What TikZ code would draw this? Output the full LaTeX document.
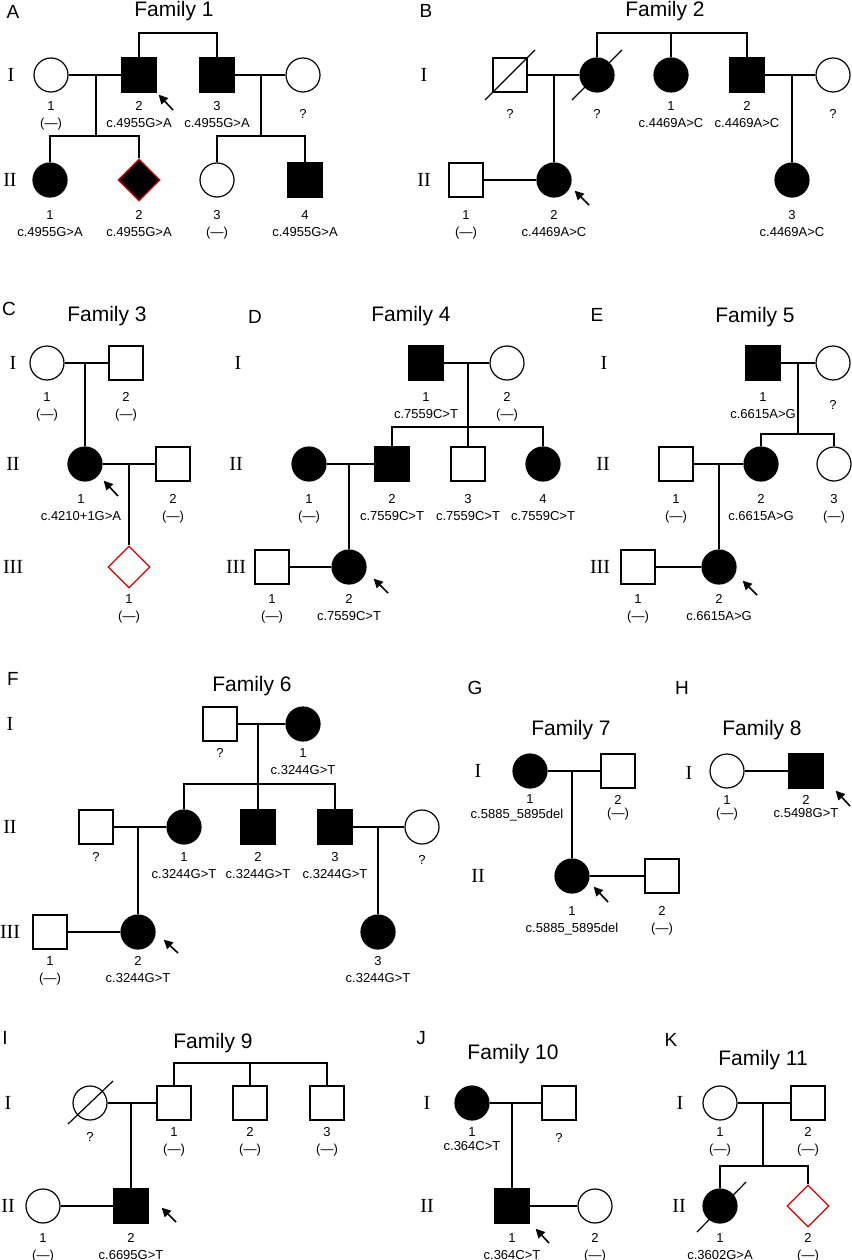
\documentclass[tikz,border=0pt]{standalone}
\usepackage{fontspec}
\setmainfont{Liberation Sans}
\newfontfamily\genfont{Liberation Serif}
\usepackage{tikz}
\usetikzlibrary{shapes.geometric}
\usetikzlibrary{arrows.meta}

\tikzset{
  male/.style={rectangle, draw, minimum size=34pt, inner sep=0pt},
  female/.style={circle, draw, minimum size=34pt, inner sep=0pt},
  sexunk/.style={diamond, draw=red!85!black, shape aspect=1, minimum width=42pt, minimum height=42pt, inner sep=0pt},
  aff/.style={fill=black},
  lab/.style={anchor=north, align=center, inner sep=0pt, font=\fontsize{13}{16.5}\selectfont},
  tlab/.style={lab, font=\fontsize{13}{13}\selectfont},
  gen/.style={inner sep=0pt, font=\genfont\fontsize{20}{20}\selectfont},
  fam/.style={anchor=base, inner sep=0pt, font=\fontsize{21}{21}\selectfont},
  panel/.style={anchor=base, inner sep=0pt, font=\fontsize{19}{19}\selectfont},
  proband/.style={-{Triangle[length=9pt,width=9pt]}, line width=1.6pt, shorten >=1pt}
}

\begin{document}
\begin{tikzpicture}[x=1pt, y=-1pt, line width=1.2pt]
\useasboundingbox (0,0) rectangle (851,1260);

% ---- Family 1
\node [panel] (pA) at (13,19) {A};
\node [fam] (t1) at (174,17) {Family 1};
\node [gen] (g1a) at (11,75) {I};
\node [gen] (g1b) at (10,180) {II};
\node [female] (f1i1) at (51,75) {};
\node [male, aff] (f1i2) at (139,75) {};
\node [male, aff] (f1i3) at (217,75) {};
\node [female] (f1i4) at (303,75) {};
\node [female, aff] (f1ii1) at (50,180) {};
\node [sexunk, aff] (f1ii2) at (139,180) {};
\node [female] (f1ii3) at (217,180) {};
\node [male, aff] (f1ii4) at (305,180) {};
\coordinate (f1s0) at (178,33);
\coordinate (f1m1) at (96,75);
\coordinate (f1s1) at (96,136);
\coordinate (f1m2) at (261,75);
\coordinate (f1s2) at (261,136);
\draw (f1i2) |- (f1s0) -| (f1i3);
\draw (f1i1) -- (f1i2);
\draw (f1i3) -- (f1i4);
\draw (f1m1) -- (f1s1);
\draw (f1ii1) |- (f1s1) -| (f1ii2);
\draw (f1m2) -- (f1s2);
\draw (f1ii3) |- (f1s2) -| (f1ii4);
\node [lab] (f1i1t) at (51,101) {1\\(—)};
\node [lab] (f1i2t) at (139,101) {2\\c.4955G>A};
\node [lab] (f1i3t) at (217,101) {3\\c.4955G>A};
\node [lab] (f1i4t) at (303,109) {?};
\node [lab] (f1ii1t) at (50,210) {1\\c.4955G>A};
\node [lab] (f1ii2t) at (139,210) {2\\c.4955G>A};
\node [lab] (f1ii3t) at (217,210) {3\\(—)};
\node [lab] (f1ii4t) at (305,210) {4\\c.4955G>A};
\draw [proband] (f1i2) ++(34,35) -- ++(-15,-16);

% ---- Family 2
\node [panel] (pB) at (426,18) {B};
\node [fam] (t2) at (665,17) {Family 2};
\node [gen] (g2a) at (424,75) {I};
\node [gen] (g2b) at (424,180) {II};
\node [male] (f2ia) at (510,75) {};
\node [female, aff] (f2ib) at (597,75) {};
\node [female, aff] (f2i1) at (671,75) {};
\node [male, aff] (f2i2) at (747,75) {};
\node [female] (f2ic) at (833,75) {};
\node [male] (f2ii1) at (466,180) {};
\node [female, aff] (f2ii2) at (554,180) {};
\node [female, aff] (f2ii3) at (792,180) {};
\coordinate (f2s0) at (671,33);
\coordinate (f2m1) at (554,75);
\coordinate (f2m2) at (792,75);
\draw (f2ib) |- (f2s0) -| (f2i2);
\draw (f2i1) -- (f2s0);
\draw (f2ia) -- (f2ib);
\draw (f2i2) -- (f2ic);
\draw (f2m1) -- (f2ii2);
\draw (f2m2) -- (f2ii3);
\draw (f2ii1) -- (f2ii2);
\draw (f2ia) ++(-25,25) -- ++(50,-50);
\draw (f2ib) ++(-25,25) -- ++(50,-50);
\node [lab] (f2iat) at (510,109) {?};
\node [lab] (f2ibt) at (597,109) {?};
\node [lab] (f2i1t) at (671,101) {1\\c.4469A>C};
\node [lab] (f2i2t) at (747,101) {2\\c.4469A>C};
\node [lab] (f2ict) at (833,109) {?};
\node [lab] (f2ii1t) at (466,210) {1\\(—)};
\node [lab] (f2ii2t) at (554,210) {2\\c.4469A>C};
\node [lab] (f2ii3t) at (792,210) {3\\c.4469A>C};
\draw [proband] (f2ii2) ++(35,25) -- ++(-15,-15);

% ---- Family 3
\node [panel] (pC) at (9,315) {C};
\node [fam] (t3) at (107,321) {Family 3};
\node [gen] (g3a) at (13,363) {I};
\node [gen] (g3b) at (13,464) {II};
\node [gen] (g3c) at (13,567) {III};
\node [female] (f3i1) at (47,363) {};
\node [male] (f3i2) at (126,363) {};
\node [female, aff] (f3ii1) at (85,464) {};
\node [male] (f3ii2) at (173,464) {};
\node [sexunk] (f3iii1) at (129,567) {};
\coordinate (f3m1) at (85,363);
\coordinate (f3m2) at (129,464);
\draw (f3i1) -- (f3i2);
\draw (f3m1) -- (f3ii1);
\draw (f3ii1) -- (f3ii2);
\draw (f3m2) -- (f3iii1);
\node [lab] (f3i1t) at (47,392) {1\\(—)};
\node [lab] (f3i2t) at (126,392) {2\\(—)};
\node [lab] (f3ii1t) at (81,494) {1\\c.4210+1G>A};
\node [lab] (f3ii2t) at (173,494) {2\\(—)};
\node [lab] (f3iii1t) at (129,594) {1\\(—)};
\draw [proband] (f3ii1) ++(33,32) -- ++(-15,-16);

% ---- Family 4
\node [panel] (pD) at (255,323) {D};
\node [fam] (t4) at (411,321) {Family 4};
\node [gen] (g4a) at (238,363) {I};
\node [gen] (g4b) at (236,464) {II};
\node [gen] (g4c) at (236,567) {III};
\node [male, aff] (f4i1) at (426,363) {};
\node [female] (f4i2) at (507,363) {};
\node [female, aff] (f4ii1) at (309,464) {};
\node [male, aff] (f4ii2) at (392,464) {};
\node [male] (f4ii3) at (468,464) {};
\node [female, aff] (f4ii4) at (543,464) {};
\node [male] (f4iii1) at (272,567) {};
\node [female, aff] (f4iii2) at (349,567) {};
\coordinate (f4m1) at (468,363);
\coordinate (f4s1) at (468,427);
\coordinate (f4m2) at (349,464);
\draw (f4i1) -- (f4i2);
\draw (f4m1) -- (f4ii3);
\draw (f4ii2) |- (f4s1) -| (f4ii4);
\draw (f4ii1) -- (f4ii2);
\draw (f4m2) -- (f4iii2);
\draw (f4iii1) -- (f4iii2);
\node [lab] (f4i1t) at (426,392) {1\\c.7559C>T};
\node [lab] (f4i2t) at (507,392) {2\\(—)};
\node [lab] (f4ii1t) at (309,494) {1\\(—)};
\node [lab] (f4ii2t) at (392,494) {2\\c.7559C>T};
\node [lab] (f4ii3t) at (468,494) {3\\c.7559C>T};
\node [lab] (f4ii4t) at (543,494) {4\\c.7559C>T};
\node [lab] (f4iii1t) at (272,594) {1\\(—)};
\node [lab] (f4iii2t) at (349,594) {2\\c.7559C>T};
\draw [proband] (f4iii2) ++(39,26) -- ++(-15,-15);

% ---- Family 5
\node [panel] (pE) at (597,321) {E};
\node [fam] (t5) at (755,322) {Family 5};
\node [gen] (g5a) at (604,363) {I};
\node [gen] (g5b) at (603,464) {II};
\node [gen] (g5c) at (600,567) {III};
\node [male, aff] (f5i1) at (763,363) {};
\node [female] (f5i2) at (833,363) {};
\node [male] (f5ii1) at (676,464) {};
\node [female, aff] (f5ii2) at (761,464) {};
\node [female] (f5ii3) at (834,464) {};
\node [male] (f5iii1) at (638,567) {};
\node [female, aff] (f5iii2) at (719,567) {};
\coordinate (f5m1) at (798,363);
\coordinate (f5s1) at (798,434);
\coordinate (f5m2) at (719,464);
\draw (f5i1) -- (f5i2);
\draw (f5m1) -- (f5s1);
\draw (f5ii2) |- (f5s1) -| (f5ii3);
\draw (f5ii1) -- (f5ii2);
\draw (f5m2) -- (f5iii2);
\draw (f5iii1) -- (f5iii2);
\node [lab] (f5i1t) at (763,392) {1\\c.6615A>G};
\node [lab] (f5i2t) at (833,400) {?};
\node [lab] (f5ii1t) at (676,494) {1\\(—)};
\node [lab] (f5ii2t) at (761,494) {2\\c.6615A>G};
\node [lab] (f5ii3t) at (834,494) {3\\(—)};
\node [lab] (f5iii1t) at (638,594) {1\\(—)};
\node [lab] (f5iii2t) at (719,594) {2\\c.6615A>G};
\draw [proband] (f5iii2) ++(38,28) -- ++(-15,-15);

% ---- Family 6
\node [panel] (pF) at (13,685) {F};
\node [fam] (t6) at (252,691) {Family 6};
\node [gen] (g6a) at (10,724) {I};
\node [gen] (g6b) at (10,827) {II};
\node [gen] (g6c) at (10,932) {III};
\node [male] (f6ia) at (220,724) {};
\node [female, aff] (f6i1) at (303,724) {};
\node [male] (f6iia) at (96,827) {};
\node [female, aff] (f6ii1) at (184,827) {};
\node [male, aff] (f6ii2) at (258,827) {};
\node [male, aff] (f6ii3) at (335,827) {};
\node [female] (f6iib) at (422,827) {};
\node [male] (f6iii1) at (50,932) {};
\node [female, aff] (f6iii2) at (138,932) {};
\node [female, aff] (f6iii3) at (378,932) {};
\coordinate (f6m1) at (258,724);
\coordinate (f6s1) at (258,784);
\coordinate (f6m2) at (138,827);
\coordinate (f6m3) at (378,827);
\draw (f6ia) -- (f6i1);
\draw (f6m1) -- (f6ii2);
\draw (f6ii1) |- (f6s1) -| (f6ii3);
\draw (f6iia) -- (f6ii1);
\draw (f6m2) -- (f6iii2);
\draw (f6iii1) -- (f6iii2);
\draw (f6ii3) -- (f6iib);
\draw (f6m3) -- (f6iii3);
\node [lab] (f6iat) at (220,748) {?};
\node [lab] (f6i1t) at (303,748) {1\\c.3244G>T};
\node [lab] (f6iiat) at (96,852) {?};
\node [lab] (f6ii1t) at (184,852) {1\\c.3244G>T};
\node [lab] (f6ii2t) at (258,852) {2\\c.3244G>T};
\node [lab] (f6ii3t) at (335,852) {3\\c.3244G>T};
\node [lab] (f6iibt) at (422,855) {?};
\node [lab] (f6iii1t) at (50,956) {1\\(—)};
\node [lab] (f6iii2t) at (138,956) {2\\c.3244G>T};
\node [lab] (f6iii3t) at (378,956) {3\\c.3244G>T};
\draw [proband] (f6iii2) ++(40,21) -- ++(-15,-14);

% ---- Family 7
\node [panel] (pG) at (475,694) {G};
\node [fam] (t7) at (571,735) {Family 7};
\node [gen] (g7a) at (478,771) {I};
\node [gen] (g7b) at (478,876) {II};
\node [female, aff] (f7i1) at (530,771) {};
\node [male] (f7i2) at (618,771) {};
\node [female, aff] (f7ii1) at (572,876) {};
\node [male] (f7ii2) at (662,876) {};
\coordinate (f7m1) at (572,771);
\draw (f7i1) -- (f7i2);
\draw (f7m1) -- (f7ii1);
\draw (f7ii1) -- (f7ii2);
\node [lab] (f7i1t) at (530,794) {1};
\node [lab] (f7i1g) at (517,808) {c.5885\_5895del};
\node [tlab] (f7i2t) at (618,795) {2\\(—)};
\node [lab] (f7ii1t) at (572,906) {1\\c.5885\_5895del};
\node [lab] (f7ii2t) at (662,906) {2\\(—)};
\draw [proband] (f7ii1) ++(36,26) -- ++(-15,-16);

% ---- Family 8
\node [panel] (pH) at (682,694) {H};
\node [fam] (t8) at (762,735) {Family 8};
\node [gen] (g8a) at (689,773) {I};
\node [female] (f8i1) at (727,771) {};
\node [male, aff] (f8i2) at (806,771) {};
\draw (f8i1) -- (f8i2);
\node [tlab] (f8i1t) at (727,795) {1\\(—)};
\node [tlab] (f8i2t) at (806,795) {2\\c.5498G>T};
\draw [proband] (f8i2) ++(44,35) -- ++(-15,-16);

% ---- Family 9
\node [panel] (pI) at (5,1044) {I};
\node [fam] (t9) at (213,1048) {Family 9};
\node [gen] (g9a) at (8,1103) {I};
\node [gen] (g9b) at (8,1206) {II};
\node [female] (f9ia) at (90,1103) {};
\node [male] (f9i1) at (174,1103) {};
\node [male] (f9i2) at (250,1103) {};
\node [male] (f9i3) at (327,1103) {};
\node [female] (f9ii1) at (43,1206) {};
\node [male, aff] (f9ii2) at (131,1206) {};
\coordinate (f9s0) at (250,1063);
\coordinate (f9m1) at (131,1103);
\draw (f9i1) |- (f9s0) -| (f9i3);
\draw (f9i2) -- (f9s0);
\draw (f9ia) -- (f9i1);
\draw (f9m1) -- (f9ii2);
\draw (f9ii1) -- (f9ii2);
\draw (f9ia) ++(-22,21) -- ++(45,-43);
\node [lab] (f9iat) at (90,1132) {?};
\node [lab] (f9i1t) at (174,1127) {1\\(—)};
\node [lab] (f9i2t) at (250,1127) {2\\(—)};
\node [lab] (f9i3t) at (327,1127) {3\\(—)};
\node [lab] (f9ii1t) at (43,1233) {1\\(—)};
\node [lab] (f9ii2t) at (131,1233) {2\\c.6695G>T};
\draw [proband] (f9ii2) ++(45,16) -- ++(-15,-15);

% ---- Family 10
\node [panel] (pJ) at (421,1044) {J};
\node [fam] (t10) at (513,1059) {Family 10};
\node [gen] (g10a) at (427,1103) {I};
\node [gen] (g10b) at (427,1206) {II};
\node [female, aff] (f10i1) at (472,1103) {};
\node [male] (f10i2) at (559,1103) {};
\node [male, aff] (f10ii1) at (512,1206) {};
\node [female] (f10ii2) at (595,1206) {};
\coordinate (f10m1) at (512,1103);
\draw (f10i1) -- (f10i2);
\draw (f10m1) -- (f10ii1);
\draw (f10ii1) -- (f10ii2);
\node [lab, font=\fontsize{13}{13.5}\selectfont] (f10i1t) at (472,1127) {1\\c.364C>T};
\node [lab] (f10i2t) at (559,1133) {?};
\node [lab] (f10ii1t) at (512,1233) {1\\c.364C>T};
\node [lab] (f10ii2t) at (595,1233) {2\\(—)};
\draw [proband] (f10ii1) ++(37,37) -- ++(-14,-15);

% ---- Family 11
\node [panel] (pK) at (671,1046) {K};
\node [fam] (t11) at (763,1065) {Family 11};
\node [gen] (g11a) at (680,1103) {I};
\node [gen] (g11b) at (679,1206) {II};
\node [female] (f11i1) at (720,1103) {};
\node [male] (f11i2) at (808,1103) {};
\node [female, aff] (f11ii1) at (720,1206) {};
\node [sexunk] (f11ii2) at (808,1206) {};
\coordinate (f11m1) at (763,1103);
\coordinate (f11s1) at (763,1166);
\draw (f11i1) -- (f11i2);
\draw (f11m1) -- (f11s1);
\draw (f11ii1) |- (f11s1) -| (f11ii2);
\draw (f11ii1) ++(-23,26) -- ++(49,-50);
\node [lab] (f11i1t) at (720,1127) {1\\(—)};
\node [lab] (f11i2t) at (808,1127) {2\\(—)};
\node [lab] (f11ii1t) at (720,1233) {1\\c.3602G>A};
\node [lab] (f11ii2t) at (808,1233) {2\\(—)};
\end{tikzpicture}
\end{document}
